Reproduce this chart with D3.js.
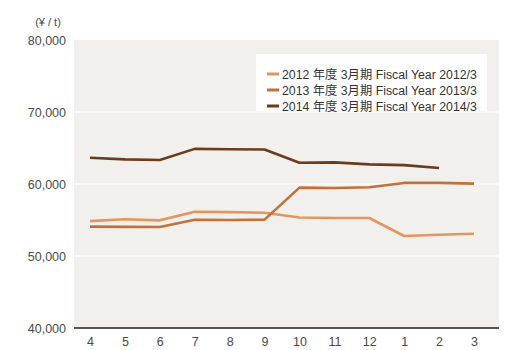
<!DOCTYPE html>
<html>
<head>
<meta charset="utf-8">
<script src="https://cdn.jsdelivr.net/npm/d3@7/dist/d3.min.js"></script>
<style>
  html, body { margin: 0; padding: 0; background: #fff; }
  svg { display: block; font-family: "Liberation Sans", Arial, "Noto Sans CJK JP", sans-serif; }
</style>
</head>
<body>
<svg id="chart" width="506" height="350"></svg>
<script>
// Months of the fiscal year (April to March)
const months = ["4", "5", "6", "7", "8", "9", "10", "11", "12", "1", "2", "3"];

// Price per tonne (yen) for each fiscal year
const fy2012 = [54850, 55100, 54950, 56150, 56100, 56000, 55350, 55280, 55280, 52780, 52950, 53100];
const fy2013 = [54080, 54050, 54030, 55030, 55000, 55050, 59500, 59450, 59550, 60150, 60150, 60050];
const fy2014 = [63650, 63420, 63330, 64880, 64820, 64800, 62950, 63000, 62720, 62620, 62220];

const seriesNames = [
  "2012 年度 3月期 Fiscal Year 2012/3",
  "2013 年度 3月期 Fiscal Year 2013/3",
  "2014 年度 3月期 Fiscal Year 2014/3"
];
const seriesColors = ["#e3955f", "#c3703a", "#6b3b1e"];

const yTicks = [40000, 50000, 60000, 70000, 80000];

const svg = d3.select("#chart");
const plot = { left: 74, right: 499, top: 40, bottom: 328 };

const x = d3.scalePoint().domain(months).range([90, 474]);
const y = d3.scaleLinear().domain([40000, 80000]).range([plot.bottom, plot.top]);

// plot background
svg.append("rect")
  .attr("x", plot.left).attr("y", plot.top)
  .attr("width", plot.right - plot.left).attr("height", plot.bottom - plot.top)
  .attr("fill", "#f2f0ec");

// horizontal gridlines
svg.append("g").selectAll("line")
  .data(yTicks.filter(t => t > 40000 && t < 80000))
  .join("line")
  .attr("x1", plot.left).attr("x2", plot.right)
  .attr("y1", d => y(d)).attr("y2", d => y(d))
  .attr("stroke", "#ffffff").attr("stroke-width", 1.2);

// y axis labels
const yAxis = d3.axisLeft(y).tickValues(yTicks).tickSize(0).tickPadding(8)
  .tickFormat(d3.format(","));
svg.append("g").attr("transform", `translate(${plot.left},0)`).call(yAxis)
  .call(g => g.select(".domain").remove())
  .call(g => g.selectAll("text").attr("fill", "#4a4a4a").attr("font-size", 12.5)
    .attr("font-family", "Liberation Sans, Arial, sans-serif"));

// unit label
svg.append("text").attr("x", 48).attr("y", 26).attr("text-anchor", "middle")
  .attr("fill", "#4a4a4a").attr("font-size", 11).text("(¥ / t)");

// x axis
const xAxis = d3.axisBottom(x).tickSize(0).tickPadding(9);
svg.append("g").attr("transform", `translate(0,${plot.bottom})`).call(xAxis)
  .call(g => g.select(".domain").remove())
  .call(g => g.selectAll("text").attr("fill", "#4a4a4a").attr("font-size", 12.5)
    .attr("font-family", "Liberation Sans, Arial, sans-serif"));
svg.append("line")
  .attr("x1", plot.left).attr("x2", plot.right)
  .attr("y1", plot.bottom).attr("y2", plot.bottom)
  .attr("stroke", "#222").attr("stroke-width", 1.3);

// series lines
const line = d3.line().x((d, i) => x(months[i])).y(d => y(d));
[fy2012, fy2013, fy2014].forEach((data, k) => {
  svg.append("path").datum(data)
    .attr("d", line)
    .attr("fill", "none")
    .attr("stroke", seriesColors[k])
    .attr("stroke-width", 2.6)
    .attr("stroke-linejoin", "round");
});

// legend
const legend = svg.append("g");
legend.append("rect").attr("x", 256).attr("y", 54).attr("width", 231).attr("height", 57)
  .attr("fill", "#ffffff");
seriesNames.forEach((name, k) => {
  const cy = 74 + k * 16;
  legend.append("line").attr("x1", 267).attr("x2", 279).attr("y1", cy).attr("y2", cy)
    .attr("stroke", seriesColors[k]).attr("stroke-width", 3);
  legend.append("text").attr("x", 282).attr("y", cy + 4.5)
    .attr("fill", "#333").attr("font-size", 12.3).text(name);
});
</script>
</body>
</html>
